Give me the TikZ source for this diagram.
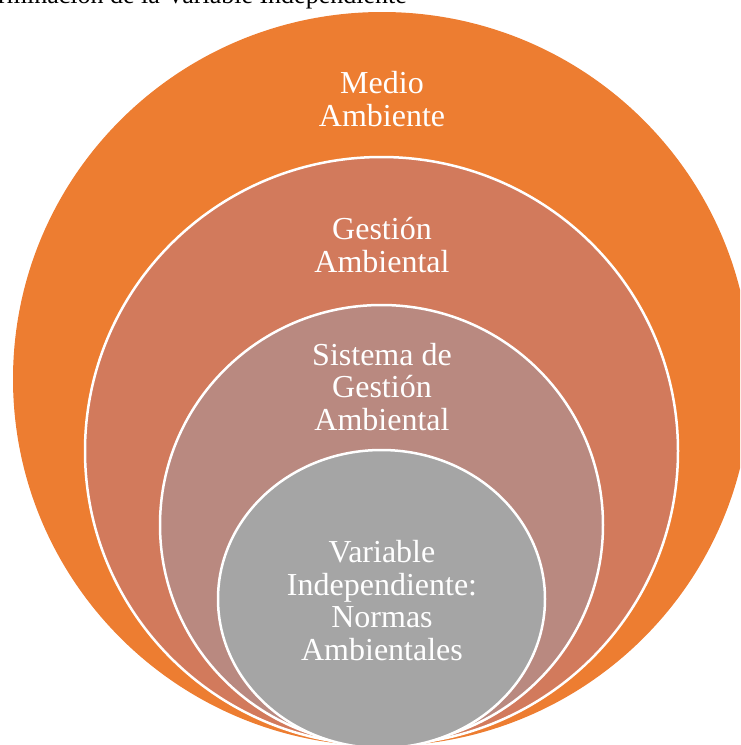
\documentclass[tikz,border=0pt]{standalone}
\usepackage{fontspec}
\setmainfont{Liberation Serif}
\definecolor{ringA}{RGB}{237,125,49}
\definecolor{ringB}{RGB}{210,122,92}
\definecolor{ringC}{RGB}{185,137,128}
\definecolor{ringD}{RGB}{165,165,165}
\tikzset{
  ring/.style={draw=white, line width=2.5pt},
  lbl/.style={text=white, align=center, inner sep=0pt, anchor=base,
    font=\fontsize{32}{32.5}\selectfont},
}
\begin{document}
\begin{tikzpicture}[x=1pt,y=-1pt]
\useasboundingbox (0,0) rectangle (740,745);
\clip (0,0) rectangle (740,745);
\node[anchor=base east, inner sep=0pt, font=\fontsize{26}{28}\selectfont] (title) at (407,3) {Determinación de la Variable Independiente};
\fill[ringA] (382,379) ellipse [x radius=369, y radius=367];
\filldraw[ring, fill=ringB] (381.5,451) ellipse [x radius=296.5, y radius=294];
\filldraw[ring, fill=ringC] (381.5,525) ellipse [x radius=221.5, y radius=220];
\filldraw[ring, fill=ringD] (381.5,599) ellipse [x radius=163.5, y radius=149];
\node[lbl] (t1) at (382,126) {Medio\\Ambiente};
\node[lbl] (t2) at (382,272) {Gestión\\Ambiental};
\node[lbl] (t3) at (382,430) {Sistema de\\Gestión\\Ambiental};
\node[lbl] (t4) at (382,660) {Variable\\Independiente:\\Normas\\Ambientales};
\end{tikzpicture}
\end{document}
